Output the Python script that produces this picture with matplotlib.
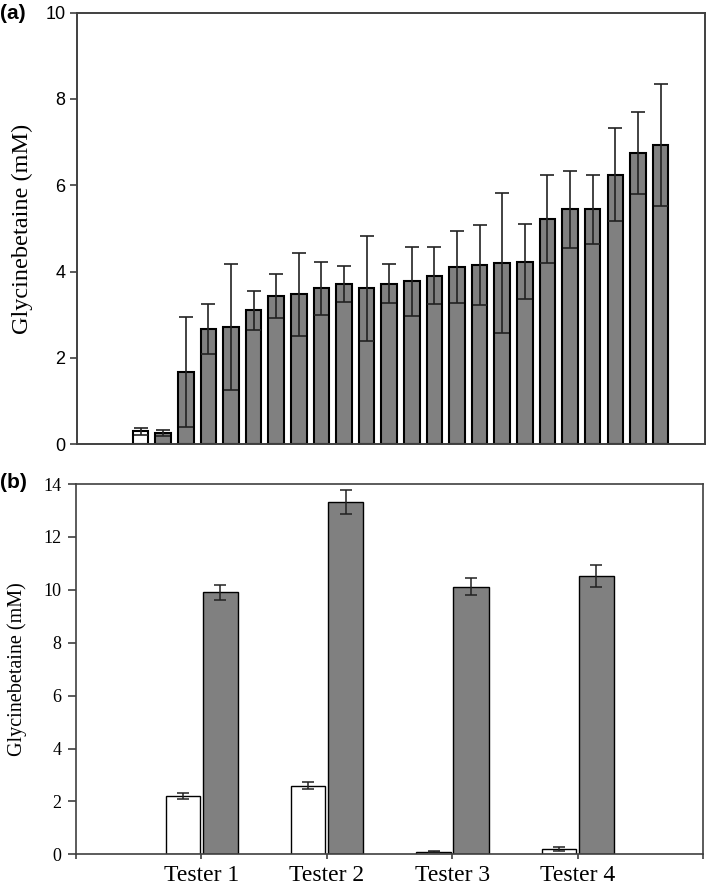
import matplotlib

matplotlib.use("Agg")
import matplotlib.pyplot as plt
import numpy as np

SANS = ["Liberation Sans", "DejaVu Sans"]
SERIF = ["Liberation Serif", "DejaVu Serif"]
plt.rcParams["font.family"] = SERIF

# --- panel (a): 24 lines, sorted by mean glycinebetaine ---------------------------
a_means = [0.30, 0.25, 1.68, 2.67, 2.71, 3.10, 3.43, 3.48, 3.61, 3.72, 3.61, 3.72,
           3.78, 3.91, 4.11, 4.15, 4.20, 4.23, 5.22, 5.44, 5.44, 6.25, 6.74, 6.93]
a_err = [0.08, 0.07, 1.28, 0.58, 1.46, 0.45, 0.51, 0.96, 0.62, 0.42, 1.21, 0.45,
         0.80, 0.65, 0.83, 0.93, 1.63, 0.87, 1.02, 0.89, 0.80, 1.07, 0.95, 1.42]
a_white = [True] + [False] * 23
a_yticks = [0, 2, 4, 6, 8, 10]

# --- panel (b): testers, control (white) vs. treated (grey) -----------------------
testers = ["Tester 1", "Tester 2", "Tester 3", "Tester 4"]
b_ctrl = [2.20, 2.60, 0.10, 0.21]
b_ctrl_err = [0.10, 0.14, 0.02, 0.07]
b_trt = [9.91, 13.32, 10.11, 10.52]
b_trt_err = [0.28, 0.45, 0.32, 0.40]
b_yticks = [0, 2, 4, 6, 8, 10, 12, 14]

GREY = "#808080"
SPINE = "#404040"

fig = plt.figure(figsize=(7.09, 8.93), dpi=100)

# ---------------------------------------------------------------------------------
ax = fig.add_axes([0.1082, 0.5025, 0.8862, 0.4833])
xa = np.arange(1, len(a_means) + 1)
ax.bar(xa, a_means, width=0.69, color=[("white" if w else GREY) for w in a_white],
       edgecolor="black", linewidth=1.5, zorder=2)
ax.errorbar(xa, a_means, yerr=a_err, fmt="none", ecolor="#222222", elinewidth=1.2,
            capsize=4.8, capthick=1.2, zorder=3)
ax.set_xlim(-1.83, 25.97)
ax.set_ylim(0, 10)
ax.set_yticks(a_yticks, labels=[str(t) for t in a_yticks], family=SANS, fontsize=13)
ax.set_xticks([])
ax.tick_params(axis="y", direction="out", length=5, width=1.2, color=SPINE, pad=3)
for s in ax.spines.values():
    s.set_color(SPINE)
    s.set_linewidth(1.4)
ax.set_ylabel("Glycinebetaine (mM)", family=SERIF, fontsize=17.5)
ax.yaxis.set_label_coords(-0.0696, 0.5)
fig.text(0.0, 0.985, "(a)", family=SANS, fontsize=15, fontweight="bold",
         ha="left", va="center")

# ---------------------------------------------------------------------------------
bx = fig.add_axes([0.1072, 0.0433, 0.8843, 0.4147])
xb = np.arange(1, len(testers) + 1)
bx.bar(xb - 0.148, b_ctrl, width=0.275, color="white", edgecolor="black",
       linewidth=1.0, zorder=2)
bx.bar(xb + 0.15, b_trt, width=0.28, color=GREY, edgecolor="black",
       linewidth=1.0, zorder=2)
bx.errorbar(xb - 0.148, b_ctrl, yerr=b_ctrl_err, fmt="none", ecolor="#222222",
            elinewidth=1.1, capsize=4.5, capthick=1.1, zorder=3)
bx.errorbar(xb + 0.15, b_trt, yerr=b_trt_err, fmt="none", ecolor="#222222",
            elinewidth=1.1, capsize=4.5, capthick=1.1, zorder=3)
bx.set_xlim(0, 5)
bx.set_ylim(0, 14)
bx.set_yticks(b_yticks, labels=[str(t) for t in b_yticks], family=SERIF, fontsize=13)
bx.set_xticks(range(0, 6), labels=[""] + testers + [""], family=SERIF, fontsize=17)
bx.tick_params(axis="x", direction="out", length=3.5, width=1.2, color=SPINE, pad=4)
bx.tick_params(axis="y", direction="out", length=5.5, width=1.2, color=SPINE, pad=5)
for s in bx.spines.values():
    s.set_color(SPINE)
    s.set_linewidth(1.2)
bx.set_ylabel("Glycinebetaine (mM)", family=SERIF, fontsize=14.5)
bx.yaxis.set_label_coords(-0.078, 0.5)
fig.text(0.0, 0.460, "(b)", family=SANS, fontsize=15, fontweight="bold",
         ha="left", va="center")

fig.savefig("out.png", dpi=100)
